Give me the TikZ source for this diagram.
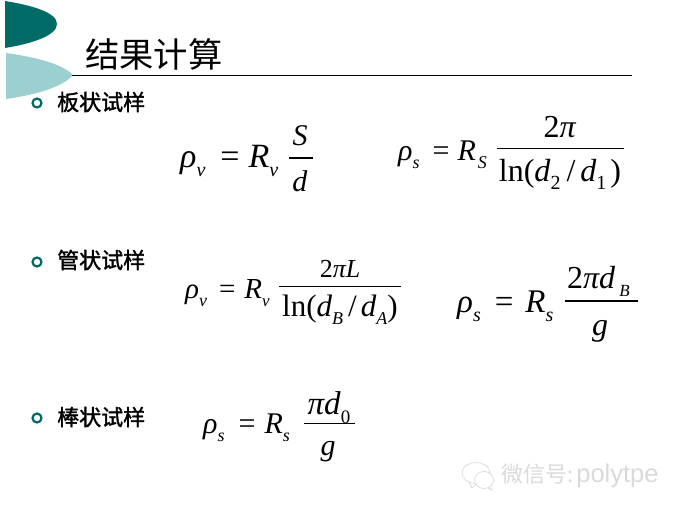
\documentclass[tikz,border=0pt]{standalone}
\usepackage{fontspec}
\setmainfont{Liberation Serif}
\newfontfamily\cjk[BoldFont=*,BoldFeatures={FakeBold=1.5}]{Noto Sans CJK SC}
\definecolor{darkteal}{HTML}{006B66}
\definecolor{lightteal}{HTML}{9CCFCF}
\definecolor{wmark}{HTML}{DADADA}
\newcommand{\I}[1]{\textit{#1}}
\newcommand{\low}[2]{\raisebox{-0.28em}{\fontsize{#1}{#1}\selectfont\textit{#2}}}
\newcommand{\sz}[1]{\fontsize{#1}{#1}\selectfont}
\tikzset{
  fml/.style={inner sep=0pt,anchor=base west},
  fmc/.style={inner sep=0pt,anchor=base},
  bar/.style={draw=black,line width=0.9pt},
  barthick/.style={draw=black,line width=1.5pt},
  bullet/.style={circle,draw=darkteal,line width=2.2pt,minimum size=9pt,inner sep=0pt},
  sample/.style={inner sep=0pt,anchor=west,font=\cjk\bfseries\fontsize{22}{22}\selectfont},
}
\begin{document}
\begin{tikzpicture}[x=1pt,y=-1pt]
\useasboundingbox (0,0) rectangle (682,509);
% corner shapes
\fill[darkteal] (5,1) .. controls (30,5) and (57,12) .. (57,24) .. controls (57,36) and (30,44) .. (5,48) -- cycle;
\fill[lightteal] (6,53) .. controls (35,57) and (63,64) .. (73,75) .. controls (63,87) and (35,95) .. (6,99) -- cycle;
% title
\node[inner sep=0pt,anchor=west,font=\cjk\fontsize{34.3}{35}\selectfont] (title) at (85,54) {结果计算};
\coordinate (ruleL) at (72,75);
\coordinate (ruleR) at (632,75);
\draw[line width=0.8pt] (ruleL) -- (ruleR);
% bullets and labels
\node[bullet] (b1) at (37,103) {};
\node[bullet] (b2) at (37,262) {};
\node[bullet] (b3) at (37,418) {};
\node[sample] (s1) at (57,102) {板状试样};
\node[sample] (s2) at (57,260) {管状试样};
\node[sample] (s3) at (57,417) {棒状试样};
% formula 1
\node[fml,font=\sz{34}] (f1l) at (180,167) {\I{ρ}\low{20}{v}\hspace{15pt}=\hspace{9pt}\I{R}\low{20}{v}};
\node[fmc,font=\sz{30}] (f1n) at (300,145) {\I{S}};
\node[fmc,font=\sz{30}] (f1d) at (300,191) {\I{d}};
\coordinate (f1a) at (289,158); \coordinate (f1b) at (313,158);
\draw[barthick] (f1a) -- (f1b);
% formula 2
\node[fml,font=\sz{30}] (f2l) at (398,160) {\I{ρ}\low{18}{s}\hspace{13pt}=\hspace{8pt}\I{R}\low{18}{\hspace{2pt}S}};
\node[fmc,font=\sz{32}] (f2n) at (560,137) {2\I{π}};
\node[fmc,font=\sz{32}] (f2d) at (560,181) {ln(\I{d}\low{20}{\textup{2}}\hspace{6pt}/\hspace{5pt}\I{d}\low{20}{\textup{1}}\hspace{4pt})};
\coordinate (f2a) at (497,148); \coordinate (f2b) at (624,148);
\draw[bar] (f2a) -- (f2b);
% formula 3
\node[fml,font=\sz{29}] (f3l) at (185,298) {\I{ρ}\low{18}{v}\hspace{12pt}=\hspace{9pt}\I{R}\low{17}{v}};
\node[fmc,font=\sz{26}] (f3n) at (340,277) {2\I{πL}};
\node[fmc,font=\sz{31}] (f3d) at (340,316) {ln(\I{d}\low{18}{B}\hspace{5pt}/\hspace{4pt}\I{d}\low{18}{A})};
\coordinate (f3a) at (279,286); \coordinate (f3b) at (401,286);
\draw[bar] (f3a) -- (f3b);
% formula 4
\node[fml,font=\sz{33}] (f4l) at (457,312) {\I{ρ}\low{20}{s}\hspace{14pt}=\hspace{12pt}\I{R}\low{20}{s}};
\node[fml,font=\sz{32}] (f4n) at (567,288) {2\I{πd}\hspace{4pt}\low{17}{B}};
\node[fmc,font=\sz{32}] (f4d) at (600,335) {\I{g}};
\coordinate (f4a) at (565,301); \coordinate (f4b) at (638,301);
\draw[barthick] (f4a) -- (f4b);
% formula 5
\node[fml,font=\sz{30}] (f5l) at (203,433) {\I{ρ}\low{18}{s}\hspace{14pt}=\hspace{9pt}\I{R}\low{18}{s}};
\node[fmc,font=\sz{33}] (f5n) at (329,414) {\I{πd}\low{19}{\textup{0}}};
\node[fmc,font=\sz{30}] (f5d) at (328,455) {\I{g}};
\coordinate (f5a) at (304,423); \coordinate (f5b) at (355,423);
\draw[bar] (f5a) -- (f5b);
% watermark
\draw[wmark,line width=0.7pt,fill=white] (476,473) ellipse (14 and 10.5);
\draw[wmark,line width=0.7pt] (469,482) -- (472,488) -- (477,483);
\draw[wmark,line width=0.7pt,fill=white] (484,480) ellipse (9.5 and 8.5);
\draw[wmark,line width=0.7pt] (488,488) -- (492,490) -- (491,487);
\node[inner sep=0pt,anchor=west,text=wmark,font=\cjk\fontsize{22}{22}\selectfont] (wm) at (501,476) {微信号:\hspace{3pt}\fontspec{Liberation Sans}\fontsize{25.5}{25.5}\selectfont polytpe};
\end{tikzpicture}
\end{document}
